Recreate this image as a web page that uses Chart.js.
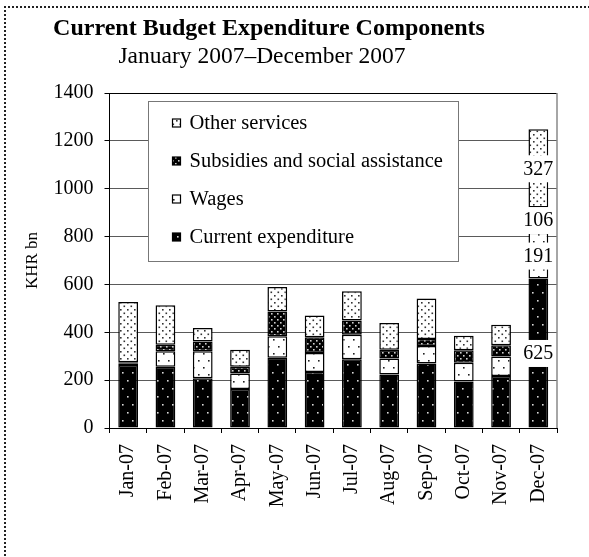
<!DOCTYPE html>
<html>
<head>
<meta charset="utf-8">
<title>Current Budget Expenditure Components</title>
<script src="https://cdn.jsdelivr.net/npm/chart.js@4.4.1/dist/chart.umd.min.js"></script>
<style>
  html, body { margin: 0; padding: 0; background: #fff; }
  #wrap { position: relative; width: 589px; height: 557px; overflow: hidden; }
  #frame { position: absolute; left: 4px; top: 6px; width: 700px; height: 700px;
           border-top: 2px dotted #222; border-left: 2px dotted #222; }
  canvas { position: absolute; left: 0; top: 0; }
</style>
</head>
<body>
<div id="wrap">
  <div id="frame"></div>
  <canvas id="budgetChart" width="589" height="557"></canvas>
</div>
<script>
const chartTitle = 'Current Budget Expenditure Components';
const chartSubtitle = 'January 2007\u2013December 2007';
const yAxisTitle = 'KHR bn';

const months = ['Jan-07', 'Feb-07', 'Mar-07', 'Apr-07', 'May-07', 'Jun-07',
                'Jul-07', 'Aug-07', 'Sep-07', 'Oct-07', 'Nov-07', 'Dec-07'];

// KHR bn, stacked bottom to top
const currentExpenditure = [263, 256, 208, 163, 294, 234, 287, 224, 270, 194, 217, 625];
const wages              = [8, 65, 113, 65, 89, 79, 103, 66, 73, 79, 82, 191];
const subsidies          = [4, 27, 41, 28, 104, 66, 59, 37, 29, 52, 47, 106];
const otherServices      = [252, 165, 56, 71, 102, 91, 123, 112, 169, 61, 85, 327];

const yTicks = [0, 200, 400, 600, 800, 1000, 1200, 1400];
const labelledMonth = 'Dec-07'; // the month whose segments get value labels

const serif = '"Liberation Serif", "Times New Roman", serif';

// small dotted fills for the bar segments
function dotPattern(bg, dot, w, h, dots) {
    const c = document.createElement('canvas');
    c.width = w;
    c.height = h;
    const g = c.getContext('2d');
    g.fillStyle = bg;
    g.fillRect(0, 0, w, h);
    g.fillStyle = dot;
    dots.forEach(([x, y]) => g.fillRect(x, y, 1.6, 1.6));
    return g.createPattern(c, 'repeat');
}

const fillCurrent = dotPattern('#000', '#d8d8d8', 10, 16, [[2, 4], [7, 12]]);
const fillWages   = dotPattern('#fff', '#222', 10, 14, [[3, 3], [8, 10]]);
const fillSubs    = dotPattern('#000', '#cfcfcf', 6, 6, [[1, 1], [4, 4]]);
const fillOther   = dotPattern('#fff', '#333', 7, 7, [[1, 1], [4.5, 4.5]]);

// title and subtitle, left of the plot centre
const headerPlugin = {
    id: 'header',
    afterDraw(chart) {
        const ctx = chart.ctx;
        ctx.save();
        ctx.fillStyle = '#000';
        ctx.textAlign = 'center';
        ctx.textBaseline = 'alphabetic';
        ctx.font = 'bold 24px ' + serif;
        ctx.fillText(chartTitle, 269, 35);
        ctx.font = '23.5px ' + serif;
        ctx.fillText(chartSubtitle, 262, 63);
        ctx.restore();
    }
};

// black top edge and grey right edge of the plot
const plotFramePlugin = {
    id: 'plotFrame',
    beforeDatasetsDraw(chart) {
        const { ctx, chartArea: a } = chart;
        ctx.save();
        ctx.lineWidth = 1;
        ctx.strokeStyle = '#000';
        ctx.beginPath();
        ctx.moveTo(a.left, Math.round(a.top) + 0.5);
        ctx.lineTo(a.right, Math.round(a.top) + 0.5);
        ctx.stroke();
        ctx.strokeStyle = '#888';
        ctx.lineWidth = 1.5;
        ctx.beginPath();
        ctx.moveTo(a.right, a.top);
        ctx.lineTo(a.right, a.bottom);
        ctx.stroke();
        ctx.restore();
    }
};

// boxed legend inside the plot, top entry = top of stack
const legendBoxPlugin = {
    id: 'legendBox',
    afterDatasetsDraw(chart) {
        const { ctx, chartArea: a } = chart;
        const x = Math.round(a.left + 38) + 0.5;
        const y = Math.round(a.top + 8) + 0.5;
        const w = 310, h = 160;
        ctx.save();
        ctx.fillStyle = '#fff';
        ctx.fillRect(x, y, w, h);
        ctx.strokeStyle = '#777';
        ctx.lineWidth = 1;
        ctx.strokeRect(x, y, w, h);
        ctx.font = '20.5px ' + serif;
        ctx.textBaseline = 'middle';
        ctx.textAlign = 'left';
        chart.data.datasets.slice().reverse().forEach((ds, i) => {
            const rowY = Math.round(y + 21 + i * 38);
            ctx.fillStyle = ds.backgroundColor;
            ctx.fillRect(x + 24, rowY - 4, 8, 8);
            ctx.strokeStyle = '#000';
            ctx.lineWidth = 1.2;
            ctx.strokeRect(x + 24, rowY - 4, 8, 8);
            ctx.fillStyle = '#000';
            ctx.fillText(ds.label, x + 41, rowY + 1);
        });
        ctx.restore();
    }
};

// value labels on white boxes over one month's segments
const segmentLabelPlugin = {
    id: 'segmentLabels',
    afterDatasetsDraw(chart) {
        const ctx = chart.ctx;
        const idx = months.indexOf(labelledMonth);
        ctx.save();
        ctx.font = '20px ' + serif;
        ctx.textAlign = 'center';
        ctx.textBaseline = 'middle';
        chart.data.datasets.forEach((ds, i) => {
            const bar = chart.getDatasetMeta(i).data[idx];
            const cy = (bar.y + bar.base) / 2;
            const text = String(ds.data[idx]);
            const tw = ctx.measureText(text).width;
            ctx.fillStyle = '#fff';
            ctx.fillRect(bar.x - tw / 2 - 2, cy - 13, tw + 4, 27);
            ctx.fillStyle = '#000';
            ctx.fillText(text, bar.x, cy + 1);
        });
        ctx.restore();
    }
};

const barStyle = {
    borderColor: '#000',
    borderWidth: 1.5,
    borderSkipped: false,
    barPercentage: 0.53,
    categoryPercentage: 1
};

const ctx = document.getElementById('budgetChart').getContext('2d');
const chart = new Chart(ctx, {
    type: 'bar',
    data: {
        labels: months,
        datasets: [
            { label: 'Current expenditure', data: currentExpenditure, backgroundColor: fillCurrent, ...barStyle },
            { label: 'Wages', data: wages, backgroundColor: fillWages, ...barStyle },
            { label: 'Subsidies and social assistance', data: subsidies, backgroundColor: fillSubs, ...barStyle },
            { label: 'Other services', data: otherServices, backgroundColor: fillOther, ...barStyle }
        ]
    },
    options: {
        responsive: false,
        animation: false,
        layout: { padding: { left: 22, right: 32, top: 93, bottom: 39 } },
        plugins: {
            legend: { display: false },
            tooltip: { enabled: false },
            title: { display: false }
        },
        scales: {
            x: {
                stacked: true,
                afterFit: (scale) => { scale.height = 90; },
                border: { display: true, color: '#000', width: 1 },
                grid: {
                    offset: true,
                    drawOnChartArea: false,
                    drawTicks: true,
                    tickLength: 5,
                    tickColor: '#000'
                },
                ticks: {
                    autoSkip: false,
                    minRotation: 90,
                    maxRotation: 90,
                    padding: 11,
                    color: '#000',
                    font: { family: serif, size: 20 }
                }
            },
            y: {
                stacked: true,
                min: 0,
                max: 1400,
                afterFit: (scale) => { scale.width = 87.5; },
                afterBuildTicks: (scale) => { scale.ticks = yTicks.map(v => ({ value: v })); },
                border: { display: true, color: '#000', width: 1 },
                grid: {
                    color: (c) => (c.tick && c.tick.value === 1400 ? '#000' : '#5a5a5a'),
                    lineWidth: 1,
                    tickLength: 5,
                    tickColor: '#000'
                },
                ticks: {
                    padding: 11,
                    color: '#000',
                    font: { family: serif, size: 20 },
                    callback: (v) => String(v)
                },
                title: {
                    display: true,
                    text: yAxisTitle,
                    color: '#000',
                    padding: { top: 0, bottom: 0 },
                    font: { family: serif, size: 17 }
                }
            }
        }
    },
    plugins: [plotFramePlugin, legendBoxPlugin, segmentLabelPlugin, headerPlugin]
});
</script>
</body>
</html>
